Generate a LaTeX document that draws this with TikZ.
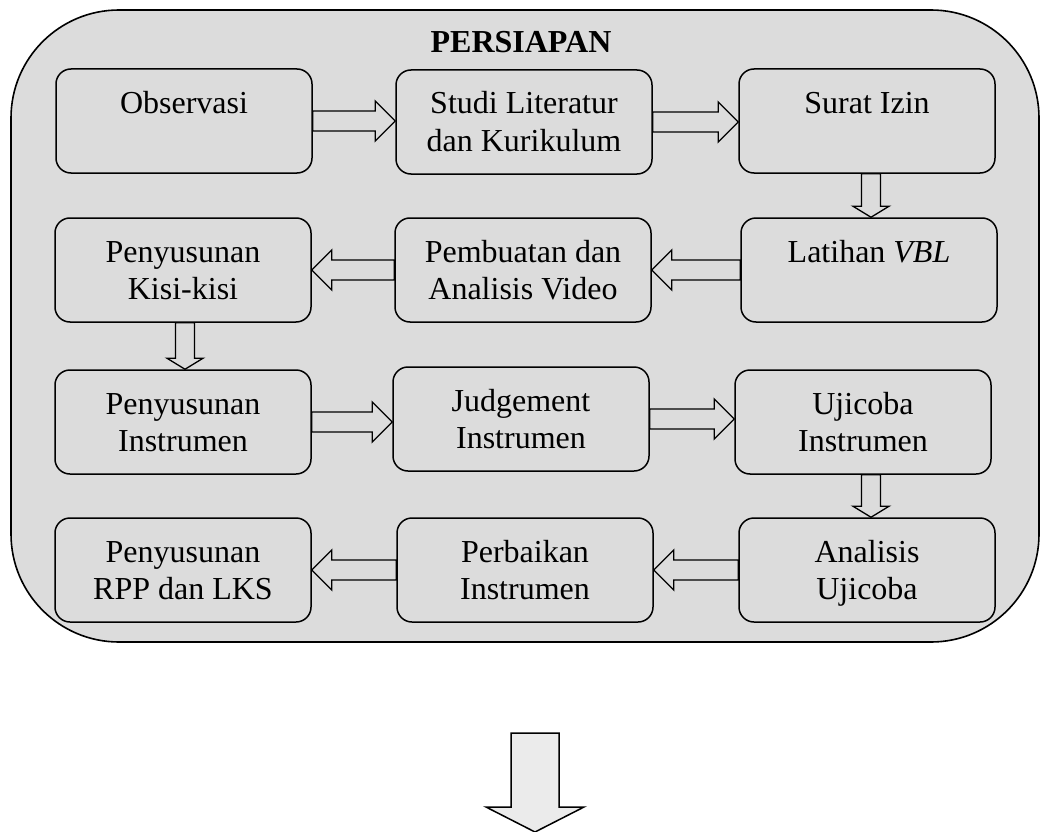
\documentclass[tikz,border=0pt]{standalone}
\usepackage{fontspec}
\setmainfont{Liberation Serif}
\usetikzlibrary{calc}
\definecolor{panel}{HTML}{DCDCDC}
\definecolor{bigfill}{HTML}{EBEBEB}
\newcommand{\myst}{\rule[-8pt]{0pt}{37pt}}
\newcommand{\rarr}[2]{\draw[blk] let \p1=(#1.east), \p2=(#2.west) in
  (\x1,\y1+10) -- (\x2-20,\y1+10) -- (\x2-20,\y1+20) -- (\x2,\y1) -- (\x2-20,\y1-20) -- (\x2-20,\y1-10) -- (\x1,\y1-10) -- cycle;}
\newcommand{\larr}[2]{\draw[blk] let \p1=(#1.west), \p2=(#2.east) in
  (\x1,\y1+10) -- (\x2+20,\y1+10) -- (\x2+20,\y1+20) -- (\x2,\y1) -- (\x2+20,\y1-20) -- (\x2+20,\y1-10) -- (\x1,\y1-10) -- cycle;}
\newcommand{\darr}[3]{\draw[blk] let \p1=(#1.south), \p2=(#2.north) in
  (\x1+#3-9.5,\y1) -- (\x1+#3-9.5,\y2+11) -- (\x1+#3-18,\y2+11) -- (\x1+#3,\y2) -- (\x1+#3+18,\y2+11) -- (\x1+#3+9.5,\y2+11) -- (\x1+#3+9.5,\y1) -- cycle;}
\tikzset{
  outerbox/.style={draw=black, fill=panel, line width=1.6pt, rounded corners=108pt},
  stepbox/.style={draw=black, fill=panel, line width=1.5pt, rounded corners=15pt,
    minimum width=256pt, minimum height=104pt, inner sep=0pt, align=center,
    font=\fontsize{32pt}{37pt}\selectfont},
  titletext/.style={font=\fontsize{32pt}{37pt}\selectfont\bfseries, anchor=base, inner sep=0pt},
  blk/.style={draw=black, fill=panel, line width=1.3pt, line join=miter},
  bigarrow/.style={draw=black, fill=bigfill, line width=1.5pt, line join=miter}
}
\begin{document}
\begin{tikzpicture}[x=1pt,y=-1pt]
\useasboundingbox (0,0) rectangle (1041,832);
\draw[outerbox] (11,10) rectangle (1039,642);
\node[titletext] (title) at (521,53) {PERSIAPAN};
% row 1
\node[stepbox] (obs) at (184,121) {\myst Observasi\\\myst};
\node[stepbox] (stu) at (524,122) {\myst Studi Literatur\\\myst dan Kurikulum};
\node[stepbox] (sur) at (867,121) {\myst Surat Izin\\\myst};
% row 2
\node[stepbox] (kis) at (183,270) {\myst Penyusunan\\\myst Kisi-kisi};
\node[stepbox] (pem) at (523,270) {\myst Pembuatan dan\\\myst Analisis Video};
\node[stepbox] (lat) at (869,270) {\myst Latihan \textit{VBL}\\\myst};
% row 3
\node[stepbox] (ins) at (183,422) {\myst Penyusunan\\\myst Instrumen};
\node[stepbox] (jud) at (521,419) {\myst Judgement\\\myst Instrumen};
\node[stepbox] (uji) at (863,422) {\myst Ujicoba\\\myst Instrumen};
% row 4
\node[stepbox] (rpp) at (183,570) {\myst Penyusunan\\\myst RPP dan LKS};
\node[stepbox] (per) at (525,570) {\myst Perbaikan\\\myst Instrumen};
\node[stepbox] (ana) at (867,570) {\myst Analisis\\\myst Ujicoba};
% connectors
\rarr{obs}{stu}
\rarr{stu}{sur}
\darr{sur}{lat}{4}
\larr{lat}{pem}
\larr{pem}{kis}
\darr{kis}{ins}{2}
\rarr{ins}{jud}
\rarr{jud}{uji}
\darr{uji}{ana}{8}
\larr{ana}{per}
\larr{per}{rpp}
% big arrow to next stage
\coordinate (nexttop) at (535,733);
\coordinate (nexttip) at (535,832);
\draw[bigarrow] let \p1=(nexttop), \p2=(nexttip) in
  (\x1-24,\y1) -- (\x1-24,\y2+25) -- (\x1-49,\y2+25) -- (\x2,\y2) -- (\x1+49,\y2+25) -- (\x1+24,\y2+25) -- (\x1+24,\y1) -- cycle;
\end{tikzpicture}
\end{document}
